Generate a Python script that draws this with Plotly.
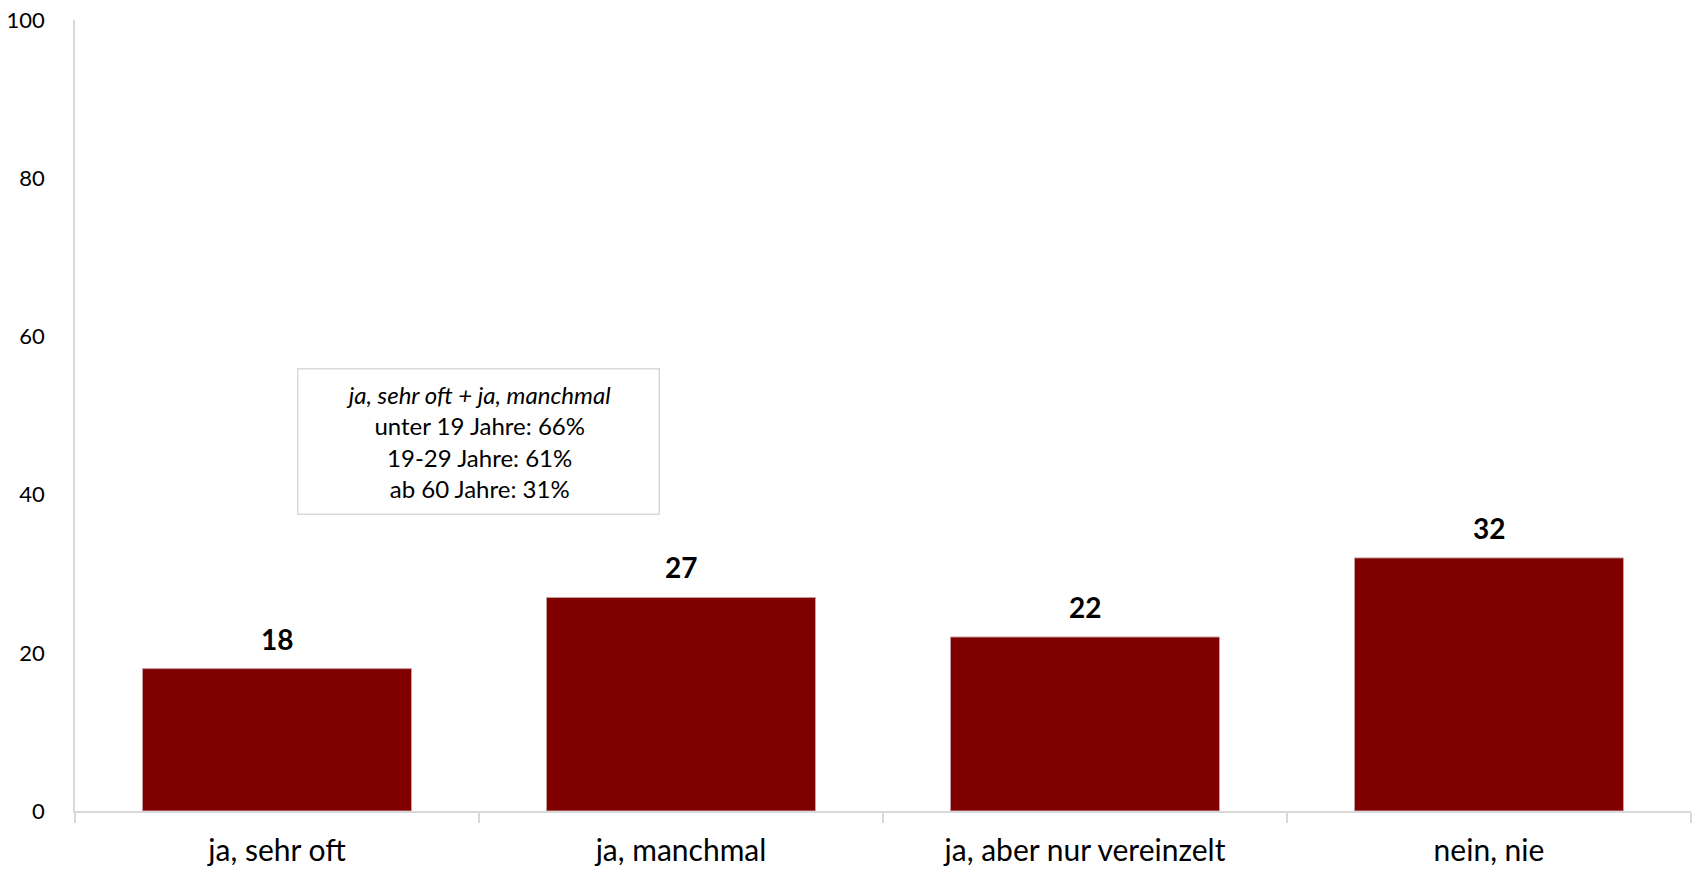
import plotly.graph_objects as go

categories = ["ja, sehr oft", "ja, manchmal", "ja, aber nur vereinzelt", "nein, nie"]
values = [18, 27, 22, 32]
y_ticks = [0, 20, 40, 60, 80, 100]
note_lines = [
    "<i>ja, sehr oft + ja, manchmal</i>",
    "unter 19 Jahre: 66%",
    "19-29 Jahre: 61%",
    "ab 60 Jahre: 31%",
]

FONT = "Lato"
BAR_COLOR = "#800000"
AXIS_COLOR = "#d9d9d9"

fig = go.Figure()
fig.add_trace(go.Bar(
    x=categories,
    y=values,
    marker=dict(color=BAR_COLOR, line=dict(color="#c8a0a0", width=1)),
    width=0.666,
    hoverinfo="x+y",
))

# value labels above each bar
for cat, val in zip(categories, values):
    fig.add_annotation(
        x=cat, y=val, xref="x", yref="y",
        text=f"<b>{val}</b>",
        showarrow=False,
        yanchor="bottom",
        yshift=11,
        font=dict(family=FONT, size=28, color="#000000"),
    )

# note box
fig.add_annotation(
    xref="paper", yref="paper",
    x=0.2494, y=0.467,
    xanchor="center", yanchor="middle",
    text="<br>".join(note_lines),
    showarrow=False,
    align="center",
    width=360, height=144,
    bordercolor=AXIS_COLOR, borderwidth=1.5, borderpad=0,
    bgcolor="#ffffff",
    font=dict(family=FONT, size=24, color="#000000"),
)

fig.update_layout(
    width=1694, height=870,
    margin=dict(l=75, r=3, t=20, b=57),
    paper_bgcolor="#ffffff",
    plot_bgcolor="#ffffff",
    showlegend=False,
    bargap=0.334,
    font=dict(family=FONT, color="#000000"),
)
fig.update_xaxes(
    type="category",
    range=[-0.5, len(categories) - 0.5],
    showline=True, linecolor=AXIS_COLOR, linewidth=1.5,
    ticks="outside", tickson="boundaries", ticklen=10, tickcolor=AXIS_COLOR, tickwidth=1.5,
    tickfont=dict(family=FONT, size=30, color="#000000"),
    ticklabelstandoff=12,
    showgrid=False, zeroline=False,
)
fig.update_yaxes(
    range=[0, 100],
    tickvals=y_ticks,
    showline=True, linecolor=AXIS_COLOR, linewidth=1.5,
    ticks="", showgrid=False, zeroline=False,
    tickfont=dict(family=FONT, size=22, color="#000000"),
    ticklabelstandoff=24,
)

fig.write_html("out.html")
